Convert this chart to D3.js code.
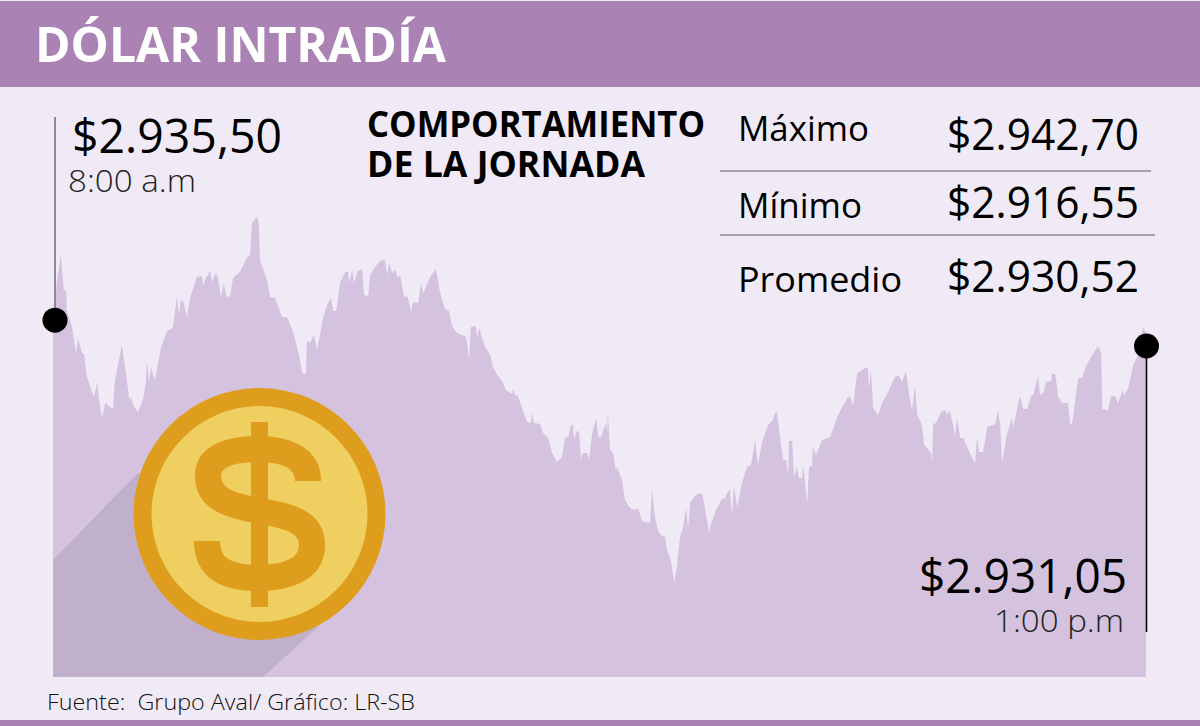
<!DOCTYPE html>
<html lang="es"><head><meta charset="utf-8">
<script src="https://cdn.jsdelivr.net/npm/d3@7"></script>
<style>html,body{margin:0;padding:0;background:#f0eaf6}svg{display:block}text{font-family:"Open Sans",sans-serif;white-space:pre}</style>
</head><body><svg id="c" width="1200" height="726"></svg>
<script>
const minutes=[0,1.1,2.2,2.7,3.0,3.6,3.8,5.2,6.3,6.9,8.0,8.5,9.3,10.7,11.3,12.1,12.6,13.5,14.3,16.5,17.0,18.9,20.3,20.9,21.4,22.0,23.3,24.7,25.5,25.8,26.4,26.9,28.0,29.6,31.3,32.9,34.0,34.6,35.1,35.7,36.8,37.6,39.5,40.9,41.2,42.0,42.5,43.1,43.6,44.7,45.3,46.1,46.9,47.5,48.6,49.4,51.3,53.3,54.1,54.6,56.0,56.5,56.8,58.7,59.6,60.9,62.9,64.2,65.9,67.5,68.4,69.4,69.7,70.5,71.6,72.5,74.1,75.2,76.3,76.9,77.7,78.8,80.2,81.0,81.3,82.1,82.6,83.7,84.8,85.4,86.5,87.0,89.2,90.3,91.1,91.7,92.2,93.1,93.9,94.7,95.3,96.3,97.4,98.3,98.8,100.2,101.0,101.6,103.5,105.1,106.2,107.6,108.7,109.5,110.9,113.4,114.2,114.7,116.1,116.4,116.9,118.6,120.0,120.8,121.9,123.3,124.3,126.0,126.3,126.8,127.6,130.1,131.2,131.5,132.0,133.7,134.5,135.9,137.0,138.3,139.7,140.5,141.4,142.2,142.7,143.0,143.8,144.4,144.9,145.5,146.6,147.1,148.0,149.1,149.6,150.4,151.8,152.1,152.3,152.9,153.7,154.5,154.8,156.2,157.0,158.4,159.8,160.6,161.7,163.9,164.4,165.2,166.1,167.2,168.0,168.5,169.6,170.5,171.3,172.1,172.9,173.8,174.3,174.9,176.0,177.1,178.2,179.2,180.1,180.6,181.4,181.7,183.6,184.5,185.0,185.8,186.4,186.9,187.8,189.1,190.5,191.6,192.7,193.5,194.6,196.3,197.6,198.2,198.7,199.6,200.4,201.2,201.8,202.0,202.9,203.4,204.2,204.8,205.6,205.9,207.0,207.5,208.3,208.6,209.4,211.1,213.3,215.5,218.0,218.8,219.6,220.7,222.9,223.7,224.0,224.5,225.1,226.5,227.6,228.4,231.1,232.0,233.1,234.1,235.2,235.8,236.6,237.2,238.5,239.1,241.0,241.3,241.6,242.4,243.8,244.9,245.4,246.0,247.1,247.6,248.1,249.0,249.8,252.3,253.1,253.6,254.2,255.3,256.4,258.6,259.4,260.0,260.5,261.6,263.2,263.5,265.4,266.3,267.4,268.5,269.0,270.4,270.9,271.8,272.6,274.0,274.2,275.1,275.9,277.0,278.6,279.2,279.7,281.4,282.5,283.3,285.2,286.9,287.7,288.0,289.6,290.4,291.5,292.3,293.7,294.0,295.1,296.5,297.6,299.2,300];
const prices=[2934.06,2938.20,2939.98,2938.20,2937.49,2937.41,2936.06,2934.84,2932.98,2933.99,2932.98,2932.91,2931.27,2930.19,2929.84,2930.91,2929.63,2928.34,2929.41,2928.98,2931.06,2933.55,2931.06,2929.63,2929.84,2929.27,2928.76,2929.63,2930.91,2932.41,2930.91,2931.91,2931.06,2933.34,2934.55,2934.77,2936.98,2935.70,2936.77,2936.70,2935.56,2936.91,2938.41,2938.48,2937.84,2938.41,2938.55,2938.91,2938.05,2938.70,2938.34,2936.98,2937.98,2937.05,2936.98,2938.34,2938.77,2939.84,2939.98,2942.27,2942.70,2942.27,2939.63,2938.20,2936.98,2936.91,2935.56,2935.56,2934.48,2932.84,2931.55,2931.48,2933.84,2933.70,2934.27,2933.19,2935.48,2936.41,2936.91,2935.98,2935.98,2937.98,2938.77,2938.77,2937.98,2938.98,2937.98,2938.84,2938.98,2937.13,2937.05,2938.55,2939.41,2939.63,2939.63,2938.55,2939.41,2938.70,2938.91,2938.34,2938.55,2937.05,2936.98,2935.91,2936.63,2936.55,2937.98,2937.27,2938.41,2938.98,2937.34,2936.13,2935.98,2934.91,2934.41,2934.13,2932.55,2934.84,2934.91,2934.05,2934.77,2933.41,2932.84,2931.98,2931.41,2930.98,2930.34,2930.05,2930.41,2929.98,2929.91,2928.05,2927.98,2928.77,2927.98,2927.91,2927.27,2926.91,2925.84,2925.19,2925.55,2926.91,2926.98,2927.84,2927.84,2926.84,2927.41,2927.34,2925.41,2925.84,2925.84,2925.34,2927.27,2928.34,2926.98,2926.98,2927.98,2927.27,2928.77,2926.05,2925.84,2924.62,2924.84,2923.91,2922.48,2921.91,2921.77,2921.91,2920.98,2920.84,2923.34,2921.26,2920.26,2919.91,2919.84,2918.91,2918.19,2916.55,2917.84,2919.84,2920.48,2921.91,2920.41,2922.34,2922.69,2922.98,2922.91,2921.55,2920.12,2920.84,2921.26,2921.62,2922.55,2922.62,2922.98,2923.19,2921.41,2923.48,2921.98,2923.69,2924.84,2924.98,2926.77,2924.98,2926.62,2927.84,2928.19,2928.69,2928.77,2926.91,2925.34,2925.34,2924.27,2926.70,2926.70,2924.12,2924.84,2924.05,2924.05,2924.98,2922.27,2924.84,2924.91,2926.27,2925.69,2926.77,2926.98,2928.55,2929.77,2929.91,2929.20,2931.55,2931.91,2931.91,2930.48,2931.84,2929.05,2928.55,2929.48,2929.77,2931.27,2931.41,2930.91,2931.70,2929.63,2928.91,2930.70,2928.55,2927.84,2926.41,2925.84,2925.12,2927.91,2927.98,2928.77,2928.91,2928.55,2928.91,2927.84,2926.98,2928.34,2926.91,2926.91,2925.48,2925.12,2926.98,2925.91,2925.91,2927.70,2927.91,2928.91,2927.84,2925.12,2926.91,2928.41,2927.62,2929.91,2928.98,2928.98,2929.91,2929.98,2931.34,2929.98,2930.12,2930.91,2930.98,2931.48,2931.48,2929.84,2929.41,2929.41,2927.91,2927.91,2931.20,2931.20,2931.91,2932.84,2933.48,2932.98,2928.98,2928.91,2929.91,2929.91,2929.41,2930.34,2929.91,2930.48,2932.13,2932.70,2934.84,2934.41];
const dotMinutes=[0.3,300];
const dotPrices=[2935.33,2933.48];
const title="DÓLAR INTRADÍA";
const subtitle=["COMPORTAMIENTO","DE LA JORNADA"];
const statLabels=["Máximo","Mínimo","Promedio"];
const statValues=["$2.942,70","$2.916,55","$2.930,52"];
const openLabel=["$2.935,50","8:00 a.m"];
const closeLabel=["$2.931,05","1:00 p.m"];
const source="Fuente:  Grupo Aval/ Gráfico: LR-SB";

const svg=d3.select("#c");
const x=d3.scaleLinear().domain([0,300]).range([53,1146]);
const y=d3.scaleLinear().domain([2909.83,2942.70]).range([677,217]);
const T=(s,px,py,size,w,len,fill)=>svg.append("text").attr("x",px).attr("y",py).attr("font-size",size).attr("font-weight",w).attr("fill",fill)
  .attr("textLength",len).attr("lengthAdjust","spacingAndGlyphs").text(s);

svg.append("rect").attr("width",1200).attr("height",726).attr("fill","#f0eaf6");
svg.append("rect").attr("y",1).attr("width",1200).attr("height",86).attr("fill","#ab82b4");
svg.append("rect").attr("y",720).attr("width",1200).attr("height",6).attr("fill","#ab82b4");

const area=d3.area().x((d,i)=>x(minutes[i])).y0(y(2909.83)).y1(d=>y(d)).curve(d3.curveLinear);
svg.append("path").datum(prices).attr("d",area).attr("fill","#d4c2df");

// long shadow behind the coin
svg.append("path").attr("d","M53,560L138,473L318,627L263,677L53,677Z").attr("fill","#c1b0cb");
// coin
svg.append("circle").attr("cx",259.5).attr("cy",514).attr("r",126).attr("fill","#df9d1d");
svg.append("circle").attr("cx",259.5).attr("cy",514).attr("r",108).attr("fill","#eecf5f");
svg.append("path").attr("d","M308,481C308,458 286,449 258,449C230,449 208,456 208,476C208,500 232,506 260,511C290,516 312,522 312,545C312,570 286,578 258,578C226,578 207,568 207,541")
  .attr("fill","none").attr("stroke","#df9d1d").attr("stroke-width",26);
svg.append("rect").attr("x",251).attr("y",422).attr("width",17).attr("height",185).attr("fill","#df9d1d");

// leader lines and dots
svg.append("line").attr("x1",55).attr("x2",55).attr("y1",117).attr("y2",y(dotPrices[0])).attr("stroke","#8f8795").attr("stroke-width",2);
svg.append("line").attr("x1",x(300)+0.5).attr("x2",x(300)+0.5).attr("y1",y(dotPrices[1])).attr("y2",632).attr("stroke","#000").attr("stroke-width",1.6);
svg.selectAll("circle.dot").data(dotPrices).join("circle").attr("class","dot")
 .attr("cx",(d,i)=>x(dotMinutes[i])+(i?0.5:0.9)).attr("cy",d=>y(d)).attr("r",12.5).attr("fill","#000");

// table rules
[[171,1151],[235,1155]].forEach(([py,x2])=>svg.append("line").attr("x1",720).attr("x2",x2).attr("y1",py).attr("y2",py).attr("stroke","#8f8795").attr("stroke-width",1.3));

T(title,35,62,49,700,411,"#fff");
T(openLabel[0],72,153,47,400,210,"#000");
T(openLabel[1],68,191.5,32,300,128,"#222");
T(subtitle[0],367,137,35,700,338,"#000");
T(subtitle[1],367,177,35,700,278,"#000");
const labelLen=[131,124,164],labelY=[141,218,292],valueY=[150,218,292];
statLabels.forEach((s,i)=>T(s,738,labelY[i],35,400,labelLen[i],"#000"));
statValues.forEach((s,i)=>T(s,947,valueY[i],44,400,192,"#000"));
T(closeLabel[0],919,593,47,400,208,"#000");
T(closeLabel[1],994,632,32,300,130,"#222");
T(source,47,710,22,300,368,"#111");
</script></body></html>
